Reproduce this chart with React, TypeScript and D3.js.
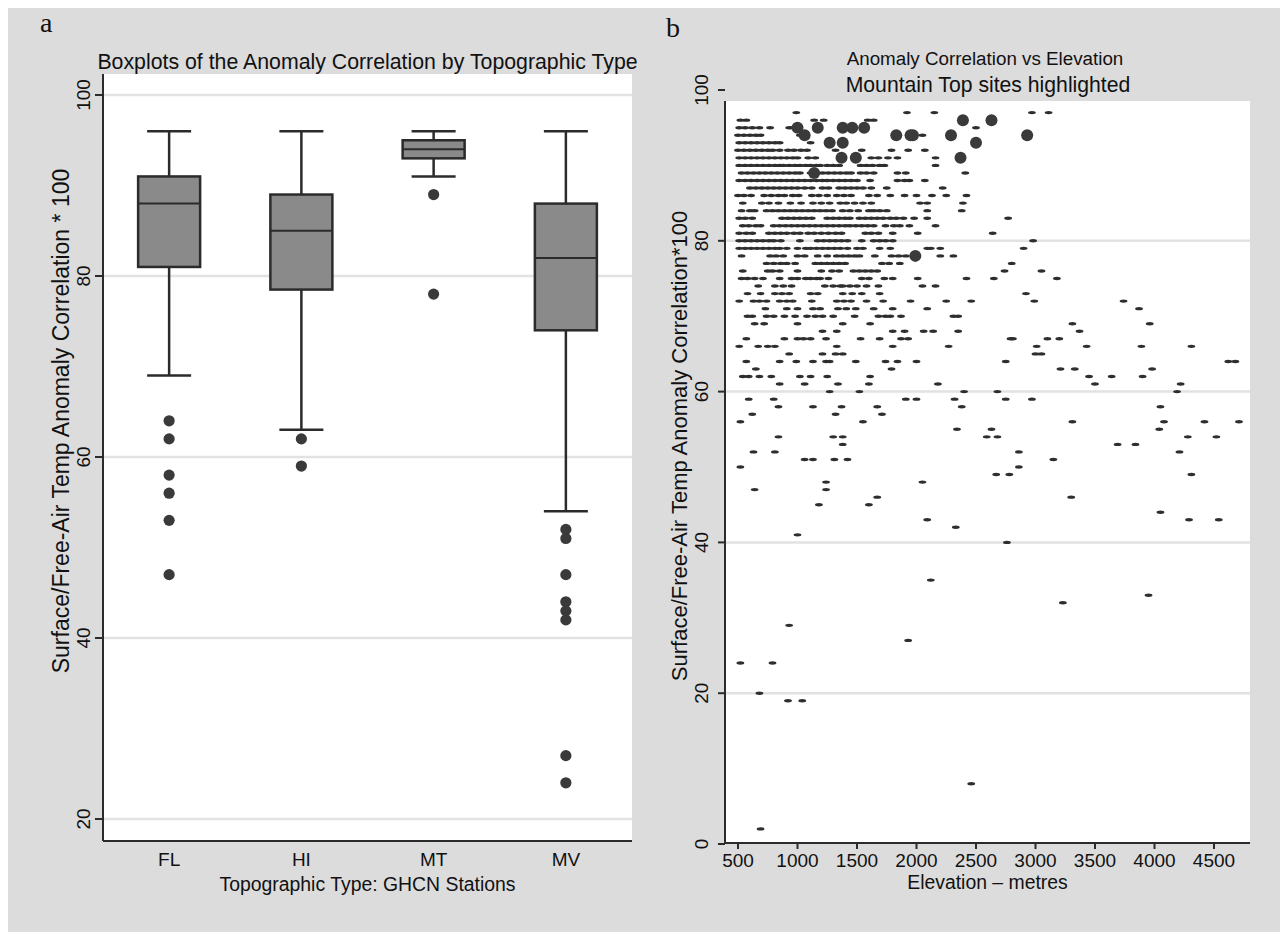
import React, { useEffect } from 'react';
import * as d3 from 'd3';

// ---------- Panel a: boxplot statistics ----------
const categories = ['FL', 'HI', 'MT', 'MV'];
const whiskerHigh = [96, 96, 96, 96];
const upperQuartile = [91, 89, 95, 88];
const medians = [88, 85, 94, 82];
const lowerQuartile = [81, 78.5, 93, 74];
const whiskerLow = [69, 63, 91, 54];
const outliers = [
  [64, 62, 58, 56, 53, 47],
  [62, 59],
  [89, 78],
  [52, 51, 47, 44, 43, 42, 27, 24],
];
const boxYTicks = [20, 40, 60, 80, 100];

// ---------- Panel b: anomaly correlation vs elevation ----------
// [correlation*100, elevations (m) of the sites with that value]
const siteRows: [number, number[]][] = [
  [97, [990, 1920, 2150, 2970, 3110]],
  [96, [520, 570, 1140, 1220, 1590, 1640]],
  [95, [510, 560, 620, 680, 770, 930, 960, 2500]],
  [94, [500, 550, 600, 650, 690, 1020, 2050]],
  [93, [510, 560, 610, 660, 710, 760, 810, 850, 1110]],
  [92, [500, 550, 600, 650, 700, 750, 790, 850, 920, 970, 1030, 1080, 1320, 1540, 1790, 1930, 2070]],
  [91, [510, 560, 610, 660, 710, 760, 810, 860, 910, 960, 1000, 1090, 1150, 1620, 1680, 1760, 1840, 2160]],
  [90, [510, 560, 610, 660, 710, 760, 810, 850, 880, 930, 980, 1020, 1070, 1110, 1160, 1190, 1250, 1300, 1350, 1530, 1580, 1630, 1690, 1730, 2160]],
  [89, [530, 580, 630, 680, 730, 780, 830, 880, 930, 980, 1020, 1110, 1160, 1210, 1260, 1310, 1360, 1410, 1450, 1530, 1580, 1640, 1840, 1910, 2410]],
  [88, [510, 560, 610, 660, 710, 760, 810, 860, 910, 960, 1010, 1060, 1110, 1160, 1210, 1250, 1300, 1350, 1400, 1450, 1500, 1610, 1840, 1900, 1940, 2070]],
  [87, [600, 650, 700, 750, 800, 850, 900, 950, 1000, 1060, 1120, 1210, 1260, 1350, 1400, 1450, 1500, 1550, 1620, 1750, 2220]],
  [86, [500, 550, 610, 720, 780, 840, 890, 960, 1010, 1120, 1180, 1250, 1330, 1390, 1450, 1600, 1670, 1780, 1900, 2000, 2130, 2250, 2420]],
  [85, [540, 700, 760, 840, 940, 1030, 1130, 1200, 1270, 1360, 1410, 1480, 1550, 1620, 2030, 2090, 2390]],
  [84, [530, 600, 640, 740, 790, 840, 890, 940, 990, 1040, 1090, 1140, 1190, 1240, 1290, 1380, 1440, 1510, 1600, 1640, 1690, 1750, 2090, 2380]],
  [83, [510, 560, 620, 870, 920, 970, 1020, 1070, 1120, 1250, 1300, 1350, 1400, 1440, 1520, 1570, 1620, 1670, 1720, 1780, 1830, 1890, 1980, 2090, 2770]],
  [82, [540, 590, 650, 690, 800, 850, 900, 950, 1000, 1050, 1100, 1150, 1200, 1250, 1300, 1350, 1400, 1440, 1490, 1540, 1590, 1640, 1740, 1810, 1860, 1940, 2160]],
  [81, [510, 570, 620, 760, 810, 860, 910, 970, 1020, 1090, 1140, 1200, 1260, 1320, 1370, 1570, 1620, 1680, 1800, 2010, 2640]],
  [80, [510, 560, 610, 660, 710, 760, 800, 860, 1020, 1170, 1220, 1270, 1320, 1370, 1420, 1540, 1640, 1690, 1740, 1800, 2980]],
  [79, [510, 560, 610, 660, 710, 760, 810, 850, 910, 1000, 1070, 1110, 1160, 1210, 1260, 1310, 1360, 1420, 1500, 1550, 1690, 1780, 2090, 2120, 2200, 2900]],
  [78, [530, 770, 820, 880, 1000, 1060, 1170, 1250, 1330, 1380, 1430, 1480, 1520, 1650, 1790, 1850, 1910, 2200, 2310]],
  [77, [740, 800, 860, 910, 980, 1150, 1200, 1250, 1300, 1350, 1400, 1710, 1770, 1860, 2800]],
  [76, [540, 750, 790, 850, 1000, 1200, 1290, 1350, 1470, 1520, 1570, 1620, 1670, 2740, 3050]],
  [75, [530, 580, 640, 710, 850, 950, 1000, 1070, 1110, 1160, 1190, 1260, 1540, 1600, 1730, 1800, 2010, 2420, 2650, 3180]],
  [74, [670, 810, 880, 950, 1230, 1300, 1360, 1380, 1440, 1500, 1580, 1680, 2050, 2160]],
  [73, [580, 690, 810, 870, 930, 1110, 1170, 1380, 1460, 1540, 1690, 2920]],
  [72, [510, 630, 680, 740, 850, 910, 960, 1120, 1330, 1390, 1450, 1580, 1720, 1950, 2250, 2460, 2990, 3740]],
  [71, [730, 910, 1000, 1130, 1190, 1340, 1410, 1490, 1640, 1800, 2090, 3870]],
  [70, [580, 620, 740, 800, 890, 980, 1080, 1150, 1210, 1300, 1480, 1680, 1740, 1780, 1870, 2310, 2350]],
  [69, [640, 720, 1000, 1380, 1610, 3310, 3960]],
  [68, [1210, 1330, 1800, 1900, 2060, 2140, 2350, 3370]],
  [67, [570, 890, 1000, 1050, 1110, 1240, 1530, 1690, 1870, 1930, 2790, 2810, 3100, 3200]],
  [66, [510, 670, 750, 810, 1330, 1800, 2270, 3010, 3430, 3890, 4310]],
  [65, [930, 1210, 1320, 1380, 3000, 3050]],
  [64, [570, 850, 990, 1130, 1240, 1270, 1490, 1740, 1840, 2000, 2750, 4620, 4680]],
  [63, [650, 1790, 3210, 3330, 3980]],
  [62, [540, 590, 680, 780, 1020, 1110, 1250, 1610, 3450, 3640, 3900]],
  [61, [850, 1060, 1340, 1600, 2180, 3500, 4220]],
  [60, [1270, 1520, 2400, 2680, 4190]],
  [59, [590, 800, 1910, 2000, 2320, 2750, 2970]],
  [58, [840, 1130, 1370, 1670, 2380, 4050]],
  [57, [620, 1320, 1710]],
  [56, [520, 1550, 3310, 4080, 4420, 4710]],
  [55, [2340, 2630, 4040]],
  [54, [840, 1300, 1380, 2590, 2680, 4280, 4520]],
  [53, [1380, 3690, 3840]],
  [52, [630, 810, 2860, 4210]],
  [51, [1060, 1130, 1310, 1420, 3150]],
  [50, [520, 2860]],
  [49, [2670, 2780, 4310]],
  [48, [1240, 2050]],
  [47, [640, 1240]],
  [46, [1670, 3300]],
  [45, [1180, 1600]],
  [44, [4050]],
  [43, [2090, 4290, 4540]],
  [42, [2330]],
  [41, [1000]],
  [40, [2760]],
  [35, [2120]],
  [33, [3950]],
  [32, [3230]],
  [29, [930]],
  [27, [1930]],
  [24, [520, 790]],
  [20, [680]],
  [19, [920, 1040]],
  [8, [2460]],
  [2, [690]],
];
// [elevation (m), correlation*100] of the Mountain Top sites
const mountainTops: [number, number][] = [
  [2390, 96], [2630, 96],
  [1000, 95], [1170, 95], [1380, 95], [1460, 95], [1560, 95],
  [1060, 94], [1830, 94], [1950, 94], [1970, 94], [2290, 94], [2930, 94],
  [1270, 93], [1380, 93], [2500, 93],
  [1370, 91], [1490, 91], [2370, 91],
  [1140, 89],
  [1990, 78],
];
const scatterYTicks = [0, 20, 40, 60, 80, 100];
const scatterXTicks = [500, 1000, 1500, 2000, 2500, 3000, 3500, 4000, 4500];

const SANS = "'Liberation Sans', Arial, Helvetica, sans-serif";
const SERIF = "'Liberation Serif', 'Times New Roman', serif";
const BG = '#dcdcdc';
const GRID = '#e2e2e2';
const INK = '#2b2b2b';
const DOT = '#3a3a3a';
const TXT = '#111111';

function Label({ x, y, size, children, anchor = 'middle', rotate = false, family = SANS }: any) {
  return (
    <text
      transform={`translate(${x},${y})${rotate ? ' rotate(-90)' : ''}`}
      fontSize={size}
      fontFamily={family}
      textAnchor={anchor}
      fill={TXT}
    >
      {children}
    </text>
  );
}

export default function App() {
  useEffect(() => {
    document.documentElement.style.overflow = 'hidden';
    document.body.style.overflow = 'hidden';
  }, []);

  // Panel a geometry (page coordinates)
  const aL = 103, aR = 632, aT = 74, aB = 841;
  const xa = d3.scaleBand<string>().domain(categories).range([aL, aR]).padding(0);
  const ya = d3.scaleLinear().domain([20, 100]).range([819, 95]);
  const boxW = 62, capW = 44;

  // Panel b geometry
  const bL = 725, bR = 1250, bT = 101, bB = 843;
  const xb = d3.scaleLinear().domain([500, 4500]).range([738, 1214]);
  const yb = d3.scaleLinear().domain([0, 100]).range([844, 90]);

  const W = 1280, H = 924;

  return (
    <svg width={W} height={H} style={{ display: 'block' }}>
      <g transform="translate(-8,-8)">
        <rect x={8} y={8} width={W} height={H} fill={BG} />

        {/* ---------------- Panel a ---------------- */}
        <Label x={40} y={32} size={28} anchor="start" family={SERIF}>a</Label>
        <Label x={(aL + aR) / 2} y={69} size={21.3}>Boxplots of the Anomaly Correlation by Topographic Type</Label>
        <rect x={aL} y={aT} width={aR - aL} height={aB - aT} fill="#ffffff" />
        {boxYTicks.map((t) => (
          <line key={'ga' + t} x1={aL} x2={aR} y1={ya(t)} y2={ya(t)} stroke={GRID} strokeWidth={2.5} />
        ))}
        {categories.map((c, i) => {
          const cx = (xa(c) as number) + xa.bandwidth() / 2;
          return (
            <g key={c}>
              <line x1={cx} x2={cx} y1={ya(whiskerHigh[i])} y2={ya(upperQuartile[i])} stroke={INK} strokeWidth={2.5} />
              <line x1={cx} x2={cx} y1={ya(lowerQuartile[i])} y2={ya(whiskerLow[i])} stroke={INK} strokeWidth={2.5} />
              <line x1={cx - capW / 2} x2={cx + capW / 2} y1={ya(whiskerHigh[i])} y2={ya(whiskerHigh[i])} stroke={INK} strokeWidth={2.5} />
              <line x1={cx - capW / 2} x2={cx + capW / 2} y1={ya(whiskerLow[i])} y2={ya(whiskerLow[i])} stroke={INK} strokeWidth={2.5} />
              <rect
                x={cx - boxW / 2}
                y={ya(upperQuartile[i])}
                width={boxW}
                height={ya(lowerQuartile[i]) - ya(upperQuartile[i])}
                fill="#8a8a8a"
                stroke={INK}
                strokeWidth={2.5}
              />
              <line x1={cx - boxW / 2} x2={cx + boxW / 2} y1={ya(medians[i])} y2={ya(medians[i])} stroke={INK} strokeWidth={2} />
              {outliers[i].map((v, j) => (
                <circle key={j} cx={cx} cy={ya(v)} r={5.6} fill={DOT} />
              ))}
              <Label x={cx} y={866} size={19}>{c}</Label>
            </g>
          );
        })}
        <line x1={aL} x2={aL} y1={aT} y2={aB} stroke={INK} strokeWidth={2} />
        <line x1={aL} x2={aR} y1={aB} y2={aB} stroke={INK} strokeWidth={2} />
        {boxYTicks.map((t) => (
          <g key={'ta' + t}>
            <line x1={aL - 8} x2={aL} y1={ya(t)} y2={ya(t)} stroke={INK} strokeWidth={2} />
            <Label x={90} y={ya(t)} size={19} rotate>{t}</Label>
          </g>
        ))}
        <Label x={69} y={421} size={23} rotate>Surface/Free-Air Temp Anomaly Correlation * 100</Label>
        <Label x={(aL + aR) / 2} y={891} size={19.4}>Topographic Type: GHCN Stations</Label>

        {/* ---------------- Panel b ---------------- */}
        <Label x={666} y={37} size={28} anchor="start" family={SERIF}>b</Label>
        <Label x={985} y={65} size={18.8}>Anomaly Correlation vs Elevation</Label>
        <Label x={988} y={92} size={21.2}>Mountain Top sites highlighted</Label>
        <rect x={bL} y={bT} width={bR - bL} height={bB - bT} fill="#ffffff" />
        {scatterYTicks.filter((t) => t > 0 && t < 100).map((t) => (
          <line key={'gb' + t} x1={bL} x2={bR} y1={yb(t)} y2={yb(t)} stroke={GRID} strokeWidth={2.5} />
        ))}
        {siteRows.map(([corr, elevs]) =>
          elevs.map((e, j) => (
            <ellipse key={corr + '-' + j} cx={xb(e)} cy={yb(corr)} rx={3.9} ry={1.7} fill="#2e2e2e" />
          ))
        )}
        {mountainTops.map(([e, corr], j) => (
          <circle key={'mt' + j} cx={xb(e)} cy={yb(corr)} r={6} fill={DOT} />
        ))}
        <line x1={bL} x2={bL} y1={bT} y2={bB} stroke={INK} strokeWidth={2} />
        <line x1={bL} x2={bR} y1={bB} y2={bB} stroke={INK} strokeWidth={2} />
        {scatterYTicks.map((t) => (
          <g key={'tb' + t}>
            <line x1={bL - 7} x2={bL} y1={yb(t)} y2={yb(t)} stroke={INK} strokeWidth={2} />
            <Label x={708} y={yb(t)} size={19} rotate>{t}</Label>
          </g>
        ))}
        {scatterXTicks.map((t) => (
          <g key={'xb' + t}>
            <line x1={xb(t)} x2={xb(t)} y1={bB} y2={bB + 6} stroke={INK} strokeWidth={2} />
            <Label x={xb(t)} y={867} size={19}>{t}</Label>
          </g>
        ))}
        <Label x={687} y={446} size={22} rotate>Surface/Free-Air Temp Anomaly Correlation*100</Label>
        <Label x={(bL + bR) / 2} y={889} size={19.4}>Elevation – metres</Label>
      </g>
    </svg>
  );
}
